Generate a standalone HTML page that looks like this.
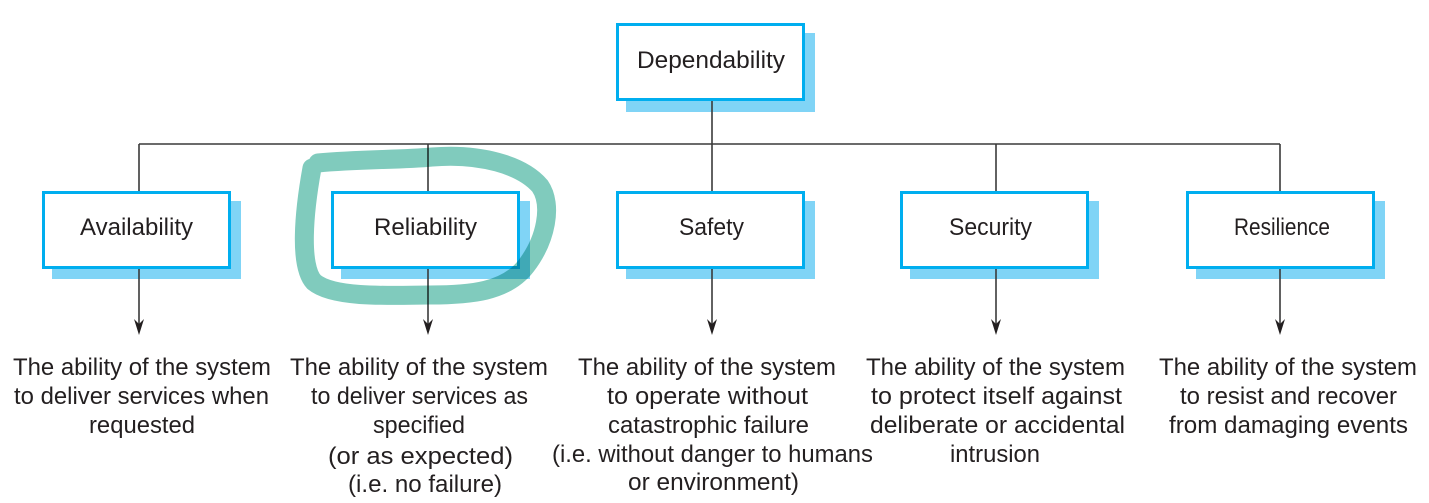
<!DOCTYPE html>
<html><head><meta charset="utf-8"><style>
html,body{margin:0;padding:0;background:#fff;}
svg{display:block;}
text{font-family:"Liberation Sans",Arial,sans-serif;fill:#231f20;}
.b{font-size:24px;}
.p{font-size:24px;}
.l{font-size:24px;}
</style></head><body>
<svg width="1429" height="503" viewBox="0 0 1429 503" xmlns="http://www.w3.org/2000/svg">
<!-- shadows -->
<g fill="#80d4f6">
<rect x="626" y="33" width="189" height="79"/>
<rect x="52" y="201" width="189" height="78"/>
<rect x="341" y="201" width="189" height="78"/>
<rect x="626" y="201" width="189" height="78"/>
<rect x="910" y="201" width="189" height="78"/>
<rect x="1196" y="201" width="189" height="78"/>
</g>
<!-- connectors -->
<g stroke="#3a3a3a" stroke-width="1.6" fill="none">
<line x1="139" y1="144" x2="1280" y2="144"/>
<line x1="712" y1="101" x2="712" y2="191"/>
<line x1="139" y1="144" x2="139" y2="191"/>
<line x1="428" y1="144" x2="428" y2="191"/>
<line x1="996" y1="144" x2="996" y2="191"/>
<line x1="1280" y1="144" x2="1280" y2="191"/>
<line x1="139" y1="269" x2="139" y2="326"/>
<line x1="428" y1="269" x2="428" y2="326"/>
<line x1="712" y1="269" x2="712" y2="326"/>
<line x1="996" y1="269" x2="996" y2="326"/>
<line x1="1280" y1="269" x2="1280" y2="326"/>
</g>
<g fill="#231f20">
<path d="M139 335 L134 319 L139 324 L144 319 Z"/>
<path d="M428 335 L423 319 L428 324 L433 319 Z"/>
<path d="M712 335 L707 319 L712 324 L717 319 Z"/>
<path d="M996 335 L991 319 L996 324 L1001 319 Z"/>
<path d="M1280 335 L1275 319 L1280 324 L1285 319 Z"/>
</g>
<!-- boxes -->
<g fill="#fff" stroke="#00aeef" stroke-width="3">
<rect x="617.5" y="24.5" width="186" height="75"/>
<rect x="43.5" y="192.5" width="186" height="75"/>
<rect x="332.5" y="192.5" width="186" height="75"/>
<rect x="617.5" y="192.5" width="186" height="75"/>
<rect x="901.5" y="192.5" width="186" height="75"/>
<rect x="1187.5" y="192.5" width="186" height="75"/>
</g>
<!-- labels -->
<text class="l" x="637" y="68" textLength="148" lengthAdjust="spacingAndGlyphs">Dependability</text>
<text class="l" x="80" y="235" textLength="113" lengthAdjust="spacingAndGlyphs">Availability</text>
<text class="l" x="374" y="235" textLength="103" lengthAdjust="spacingAndGlyphs">Reliability</text>
<text class="l" x="679" y="235" textLength="65" lengthAdjust="spacingAndGlyphs">Safety</text>
<text class="l" x="949" y="235" textLength="83" lengthAdjust="spacingAndGlyphs">Security</text>
<text class="l" x="1234" y="235" textLength="96" lengthAdjust="spacingAndGlyphs">Resilience</text>
<!-- descriptions -->
<g class="b">
<text class="b" x="13" y="375" textLength="258" lengthAdjust="spacingAndGlyphs">The ability of the system</text>
<text class="b" x="14" y="404" textLength="255" lengthAdjust="spacingAndGlyphs">to deliver services when</text>
<text class="b" x="89" y="433" textLength="106" lengthAdjust="spacingAndGlyphs">requested</text>

<text class="b" x="290" y="375" textLength="258" lengthAdjust="spacingAndGlyphs">The ability of the system</text>
<text class="b" x="311" y="404" textLength="217" lengthAdjust="spacingAndGlyphs">to deliver services as</text>
<text class="b" x="373" y="433" textLength="92" lengthAdjust="spacingAndGlyphs">specified</text>
<text class="p" x="328" y="464" textLength="185" lengthAdjust="spacingAndGlyphs">(or as expected)</text>
<text class="p" x="348" y="492" textLength="154" lengthAdjust="spacingAndGlyphs">(i.e. no failure)</text>

<text class="b" x="578" y="375" textLength="258" lengthAdjust="spacingAndGlyphs">The ability of the system</text>
<text class="b" x="607" y="404" textLength="201" lengthAdjust="spacingAndGlyphs">to operate without</text>
<text class="b" x="608" y="433" textLength="201" lengthAdjust="spacingAndGlyphs">catastrophic failure</text>
<text class="p" x="552" y="462" textLength="321" lengthAdjust="spacingAndGlyphs">(i.e. without danger to humans</text>
<text class="p" x="628" y="490" textLength="171" lengthAdjust="spacingAndGlyphs">or environment)</text>

<text class="b" x="866" y="375" textLength="259" lengthAdjust="spacingAndGlyphs">The ability of the system</text>
<text class="b" x="871" y="404" textLength="251" lengthAdjust="spacingAndGlyphs">to protect itself against</text>
<text class="b" x="870" y="433" textLength="255" lengthAdjust="spacingAndGlyphs">deliberate or accidental</text>
<text class="b" x="950" y="462" textLength="90" lengthAdjust="spacingAndGlyphs">intrusion</text>

<text class="b" x="1159" y="375" textLength="258" lengthAdjust="spacingAndGlyphs">The ability of the system</text>
<text class="b" x="1180" y="404" textLength="217" lengthAdjust="spacingAndGlyphs">to resist and recover</text>
<text class="b" x="1169" y="433" textLength="239" lengthAdjust="spacingAndGlyphs">from damaging events</text>
</g>
<!-- highlight -->
<path d="M318 163 C360 159 400 160 432 157 C480 153 522 165 540 186 C553 205 546 240 526 266 C506 292 470 295 430 295 C380 296 332 297 314 282 C299 266 304 212 312 168"
 fill="none" stroke="#80cbbd" stroke-width="19" stroke-linecap="round" stroke-linejoin="round" style="mix-blend-mode:multiply"/>
</svg>
</body></html>
